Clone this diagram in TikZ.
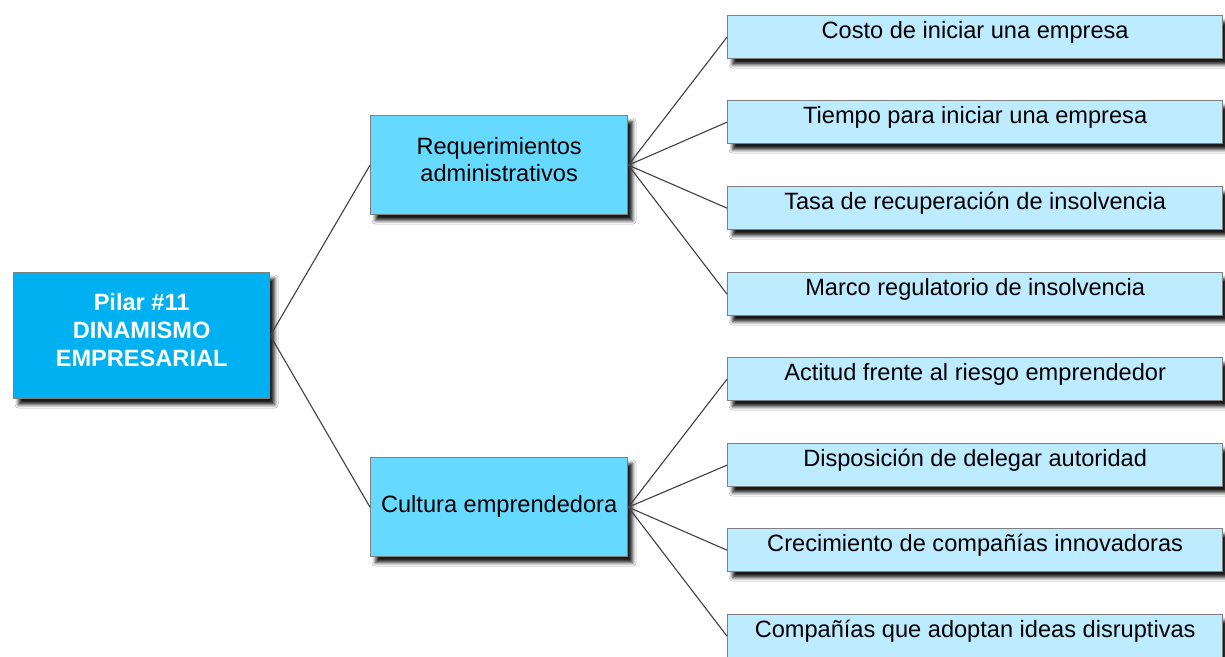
\documentclass[tikz,border=0pt]{standalone}
\usepackage{fontspec}
\setmainfont{Liberation Sans}
\usetikzlibrary{shadows.blur}
\definecolor{rootfill}{HTML}{00B0F0}
\definecolor{midfill}{HTML}{66D9FF}
\definecolor{leaffill}{HTML}{BDEBFF}
\definecolor{edgegray}{HTML}{808080}
\definecolor{linegray}{HTML}{404040}
\tikzset{
  boxbase/.style={draw=edgegray, line width=1.3pt, anchor=north west, inner sep=0pt,
    blur shadow={shadow xshift=5pt, shadow yshift=-6pt, shadow blur radius=3.5pt, shadow opacity=90},
    font=\fontsize{23.6}{27.5}\selectfont, align=center},
  rootbox/.style={boxbase, fill=rootfill, text=white, font=\fontsize{23.6}{28}\selectfont\bfseries,
    minimum width=256pt, minimum height=126pt, text height=93.5pt, text depth=32.5pt},
  midbox/.style={boxbase, fill=midfill, text=black, minimum width=257pt, minimum height=99pt},
  leafbox/.style={boxbase, fill=leaffill, text=black, minimum width=495pt, minimum height=43pt,
    text height=22.5pt, text depth=20.5pt},
  conn/.style={draw=linegray, line width=1.1pt}
}
\begin{document}
\begin{tikzpicture}[x=1pt,y=-1pt]
\useasboundingbox[fill=white] (0,0) rectangle (1225,656);
\begin{scope}
\clip (0,0) rectangle (1225,656);
\node[rootbox] (root) at (13,272) {Pilar \#11\\DINAMISMO\\EMPRESARIAL};
\node[midbox, text height=66pt, text depth=33pt] (m1) at (370,115) {Requerimientos\\administrativos};
\node[midbox, text height=54.4pt, text depth=43.6pt] (m2) at (370,457) {Cultura emprendedora};
\node[leafbox] (l1) at (727,15) {Costo de iniciar una empresa};
\node[leafbox] (l2) at (727,100) {Tiempo para iniciar una empresa};
\node[leafbox] (l3) at (727,186) {Tasa de recuperación de insolvencia};
\node[leafbox] (l4) at (727,272) {Marco regulatorio de insolvencia};
\node[leafbox] (l5) at (727,357) {Actitud frente al riesgo emprendedor};
\node[leafbox] (l6) at (727,443) {Disposición de delegar autoridad};
\node[leafbox] (l7) at (727,528) {Crecimiento de compañías innovadoras};
\node[leafbox] (l8) at (727,614) {Compañías que adoptan ideas disruptivas};
\draw[conn] (root.east) -- (m1.west);
\draw[conn] (root.east) -- (m2.west);
\foreach \l in {l1,l2,l3,l4} \draw[conn] (m1.east) -- (\l.west);
\foreach \l in {l5,l6,l7,l8} \draw[conn] (m2.east) -- (\l.west);
\end{scope}
\end{tikzpicture}
\end{document}
